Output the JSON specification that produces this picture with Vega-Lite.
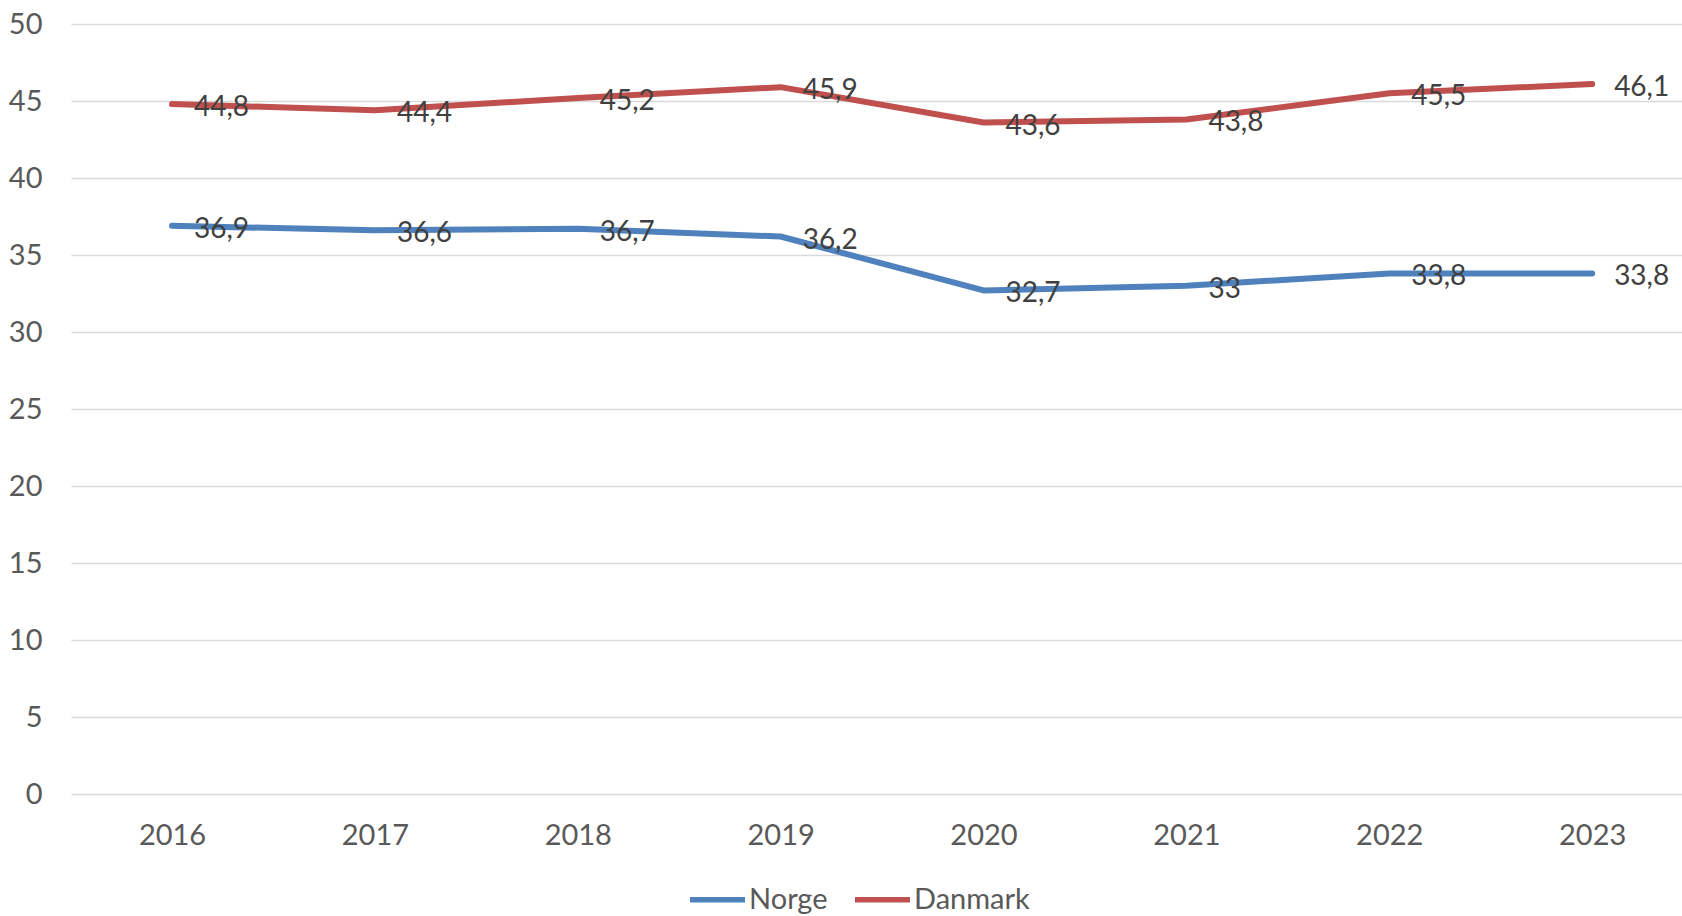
{
  "$schema": "https://vega.github.io/schema/vega-lite/v6.json",
  "autosize": "none",
  "padding": {"left": 71, "top": 24, "right": 0, "bottom": 122},
  "width": 1611,
  "height": 770,
  "background": "white",
  "config": {
    "locale": {"number": {"decimal": ",", "thousands": ".", "grouping": [3], "currency": ["", " kr"]}},
    "view": {"stroke": null},
    "font": "Lato",
    "axis": {"labelFont": "Lato", "labelFontSize": 29, "labelColor": "#595959"},
    "legend": {"labelFont": "Lato", "labelFontSize": 29, "labelColor": "#595959"}
  },
  "data": {
    "values": [
      {"year": 2016, "series": "Norge", "value": 36.9},
      {"year": 2017, "series": "Norge", "value": 36.6},
      {"year": 2018, "series": "Norge", "value": 36.7},
      {"year": 2019, "series": "Norge", "value": 36.2},
      {"year": 2020, "series": "Norge", "value": 32.7},
      {"year": 2021, "series": "Norge", "value": 33},
      {"year": 2022, "series": "Norge", "value": 33.8},
      {"year": 2023, "series": "Norge", "value": 33.8},
      {"year": 2016, "series": "Danmark", "value": 44.8},
      {"year": 2017, "series": "Danmark", "value": 44.4},
      {"year": 2018, "series": "Danmark", "value": 45.2},
      {"year": 2019, "series": "Danmark", "value": 45.9},
      {"year": 2020, "series": "Danmark", "value": 43.6},
      {"year": 2021, "series": "Danmark", "value": 43.8},
      {"year": 2022, "series": "Danmark", "value": 45.5},
      {"year": 2023, "series": "Danmark", "value": 46.1}
    ]
  },
  "encoding": {
    "x": {
      "field": "year",
      "type": "quantitative",
      "scale": {"domain": [2015.502, 2023.443], "nice": false, "zero": false},
      "axis": {
        "title": null,
        "values": [2016, 2017, 2018, 2019, 2020, 2021, 2022, 2023],
        "format": "d",
        "grid": false,
        "domain": false,
        "ticks": false,
        "labelPadding": 27
      }
    },
    "y": {
      "field": "value",
      "type": "quantitative",
      "scale": {"domain": [0, 50], "nice": false},
      "axis": {
        "title": null,
        "values": [0, 5, 10, 15, 20, 25, 30, 35, 40, 45, 50],
        "grid": true,
        "gridColor": "#D9D9D9",
        "gridWidth": 1.5,
        "domain": false,
        "ticks": false,
        "labelPadding": 29
      }
    },
    "color": {
      "field": "series",
      "type": "nominal",
      "scale": {"domain": ["Norge", "Danmark"], "range": ["#4F81BD", "#C0504D"]},
      "legend": {
        "title": null,
        "orient": "none",
        "direction": "horizontal",
        "legendX": 616,
        "legendY": 845,
        "symbolType": "stroke",
        "symbolStrokeWidth": 5.5,
        "symbolSize": 3025,
        "labelOffset": 1,
        "columnPadding": 16
      }
    }
  },
  "layer": [
    {
      "mark": {"type": "line", "strokeWidth": 6, "strokeCap": "round", "strokeJoin": "round"}
    },
    {
      "mark": {"type": "text", "align": "left", "baseline": "middle", "dx": 22, "dy": 4, "fontSize": 28, "font": "Lato", "color": "#404040"},
      "encoding": {
        "text": {"field": "value", "type": "quantitative", "format": ".3~g"},
        "color": {"value": "#404040"}
      }
    }
  ]
}
